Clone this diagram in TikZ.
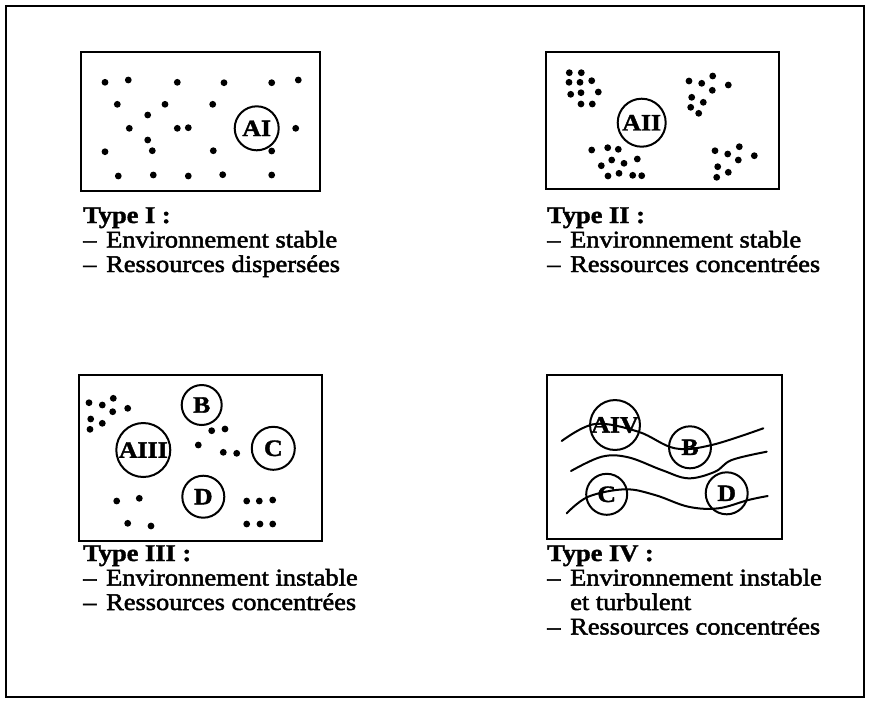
\documentclass[tikz,border=0pt]{standalone}
\usepackage{fontspec}
\setmainfont{Liberation Serif}
\newfontfamily\itemfont{Liberation Serif}[FakeStretch=1.1, FakeBold=2]
\newfontfamily\headfont{Liberation Serif Bold}[FakeStretch=1.1, FakeBold=1.5]
\usepackage{tikz}

\newcommand{\tiret}{\makebox[23pt][l]{–}}

\tikzset{
	frame/.style={line width=2.4pt},
	panel/.style={line width=2.1pt},
	dot/.style={fill=black},
	agent/.style={circle, draw, line width=2pt, inner sep=0pt,
		font=\headfont\fontsize{23.5}{23.5}\selectfont},
	wave/.style={line width=2pt, line cap=round},
	head/.style={anchor=base west, inner sep=0pt,
		font=\headfont\fontsize{24}{24}\selectfont},
	item/.style={anchor=base west, inner sep=0pt,
		font=\itemfont\fontsize{24}{24}\selectfont}
}

\begin{document}
\begin{tikzpicture}[x=1pt, y=-1pt]

	% ---- page and outer frame

	\fill[white] (0,0) rectangle (869,705);
	\useasboundingbox (0,0) rectangle (869,705);
	\draw[frame] (6,6) rectangle (864,697);

	% ---- the four boxes

	\draw[panel] (81,52) rectangle (320,191);
	\draw[panel] (546,52) rectangle (779,189);
	\draw[panel] (79,375) rectangle (322,541);
	\draw[panel] (547,375) rectangle (782,539);

	% ---- type I : scattered dots

	\foreach \p in {(105,82.3),(128.3,80),(177.3,82.3),(224,82.7),(271.7,82.7),(298.3,80),
		(117.3,104.3),(165,104.3),(212.7,104.3),(147.7,115),
		(129.3,128.3),(177.3,128.3),(188.3,127.7),(295.7,128.3),(147.7,140),
		(105,151.7),(152.3,150.7),(213.3,150.7),(271.7,151),
		(118.3,176),(153.3,175),(188.3,176),(222.7,174.7),(271.7,175)}
		{ \fill[dot] \p circle (3.4pt); }

	\node[agent, minimum size=44pt] (AI) at (256.7,128.3) {AI};

	% ---- type II : four clusters

	\foreach \p in {(569.3,72.7),(581.3,72.7),(569,82.3),(580,82.3),(591.7,80.7),
		(570.7,94.3),(581,92.7),(598.3,92),(581,104),(592.3,104),
		(689,81),(701.7,83.3),(712.7,76),(728.3,85),(712.3,90.3),
		(691.7,97.3),(703.3,102.3),(690.7,107.3),(698.7,113.3),
		(591.7,150),(607.7,147.7),(618.3,149.3),(637.3,159),(611.7,160),(624,163.3),
		(601.3,165.7),(619,173.3),(608,176),(632.7,175.3),(641.7,175.7),
		(739.3,146.7),(715,150.7),(727.7,154),(754.3,155.7),(738.3,160),
		(717.7,166.7),(728.3,172.3),(716.7,177.3)}
		{ \fill[dot] \p circle (3.4pt); }

	\node[agent, minimum size=48pt] (AII) at (641.7,122.7) {AII};

	% ---- type III : clusters and several agents

	\foreach \p in {(89,402.7),(102.3,405),(113.3,398.3),(127.7,408.3),(112.7,411.7),
		(90.7,419),(102.3,423.3),(90,429.3),
		(211.7,430.7),(225,429),(198.3,445),(223.3,452.3),(236.7,453.3),
		(116.7,501),(139.3,498.3),(127.7,523.3),(151,526),
		(246.7,501),(259.3,501),(272.7,500),(246.7,524),(260,524),(272.7,524)}
		{ \fill[dot] \p circle (3.4pt); }

	\node[agent, minimum size=54pt] (AIII) at (143.3,450) {AIII};
	\node[agent, minimum size=40pt] (B3) at (201.7,405) {B};
	\node[agent, minimum size=43pt] (C3) at (273.3,448.3) {C};
	\node[agent, minimum size=42pt] (D3) at (203.3,496.7) {D};

	% ---- type IV : turbulent flows

	\draw[wave] plot[smooth, tension=0.6] coordinates {(561.7,441) (595,424) (638.3,431.7)
		(675,448.3) (711.7,445) (763.3,428.3)};
	\draw[wave] plot[smooth, tension=0.6] coordinates {(571,471) (601.7,456.7) (628.3,457.3)
		(661.7,470) (688.3,478.3) (715,471.7) (731.7,460) (766.7,451.7)};
	\draw[wave] plot[smooth, tension=0.6] coordinates {(566.7,513.3) (588.3,496.7) (625,489.3)
		(655,495) (688.3,506.7) (718.3,508.3) (748.3,500) (767.7,496)};

	\node[agent, minimum size=46pt] (AIV) at (615,425) {AIV};
	\node[agent, minimum size=42pt] (B4) at (690,447.3) {B};
	\node[agent, minimum size=41pt] (C4) at (606.7,494.3) {C};
	\node[agent, minimum size=42pt] (D4) at (726.7,493.3) {D};

	% ---- captions

	\node[head] (t1) at (83,223) {Type I :};
	\node[item] (t1a) at (83,247.5) {\tiret Environnement stable};
	\node[item] (t1b) at (83,272) {\tiret Ressources dispersées};

	\node[head] (t2) at (547,223) {Type II :};
	\node[item] (t2a) at (547,247.5) {\tiret Environnement stable};
	\node[item] (t2b) at (547,272) {\tiret Ressources concentrées};

	\node[head] (t3) at (83,561) {Type III :};
	\node[item] (t3a) at (83,585.5) {\tiret Environnement instable};
	\node[item] (t3b) at (83,610) {\tiret Ressources concentrées};

	\node[head] (t4) at (547,561) {Type IV :};
	\node[item] (t4a) at (547,585.5) {\tiret Environnement instable};
	\node[item] (t4b) at (547,610) {\hspace*{23pt}et turbulent};
	\node[item] (t4c) at (547,634.5) {\tiret Ressources concentrées};

\end{tikzpicture}
\end{document}
